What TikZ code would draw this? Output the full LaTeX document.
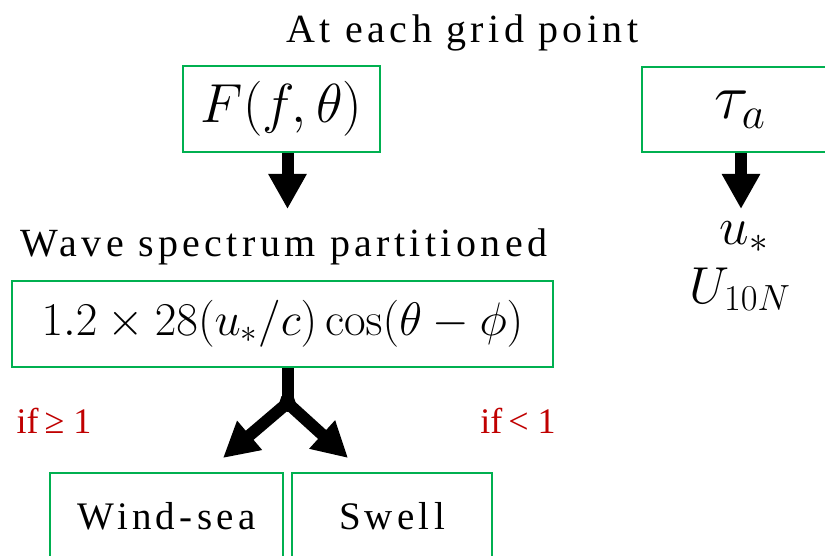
\RequirePackage{fix-cm}
\documentclass[tikz,border=0pt]{standalone}
\usepackage[no-math]{fontspec}
\setmainfont{Liberation Serif}
\newfontfamily\spaced[LetterSpace=11]{Liberation Serif}
\usetikzlibrary{arrows.meta}
\definecolor{boxgreen}{HTML}{00B050}
\definecolor{labred}{HTML}{C00000}
\tikzset{
  greenbox/.style={draw=boxgreen, line width=2pt, inner sep=0pt, anchor=center},
  lbl/.style={font=\fontsize{40}{46}\selectfont\spaced, text=black, inner sep=0pt, anchor=base},
  redlbl/.style={font=\fontsize{36}{42}\selectfont, text=labred, inner sep=0pt, anchor=base},
  mathlbl/.style={inner sep=0pt, anchor=base},
  bigarrow/.style={line width=12pt, -{Triangle[length=35pt,width=36pt]}},
  splitline/.style={line width=12pt, line join=miter}
}
\begin{document}
\begin{tikzpicture}[x=1pt,y=-1pt]
\clip (0,0) rectangle (825,556);
\fill[white] (0,0) rectangle (825,556);

% title
\node[lbl] (title) at (462.5,43) {At each grid point};

% F box
\node[greenbox, minimum width=197pt, minimum height=86pt] (F) at (281.5,109)
  {\fontsize{55}{60}\selectfont$F(f,\theta)$};

% tau box
\node[greenbox, minimum width=196pt, minimum height=85pt] (tau) at (740,109.5)
  {\fontsize{64}{72}\selectfont$\tau_a$};

% arrows down
\coordinate (tipF) at (287.5,209);
\coordinate (tipT) at (741,209);
\draw[bigarrow] (F.south -| tipF) -- (tipF);
\draw[bigarrow] (tau.south -| tipT) -- (tipT);

% wave spectrum label
\node[lbl] (wsp) at (284,257) {Wave spectrum partitioned};

% u* and U10N
\node[mathlbl] (ustar) at (744,245) {\fontsize{53}{58}\selectfont$u_*$};
\node[mathlbl] (U10) at (740,303) {\fontsize{52}{58}\selectfont$U_{10N}$};

% formula box
\node[greenbox, minimum width=541pt, minimum height=86pt] (form) at (282.5,324)
  {\fontsize{47}{54}\selectfont$1.2\times28(u_*/c)\cos(\theta-\phi)$};

% split arrow
\coordinate (j) at (287.5,403);
\coordinate (tipL) at (223,458);
\coordinate (tipR) at (348,458);
\draw[splitline] (form.south -| j) -- (j);
\draw[splitline, -{Triangle[length=35pt,width=36pt]}] (j) -- (tipL);
\draw[splitline, -{Triangle[length=35pt,width=36pt]}] (j) -- (tipR);
\fill (281.5,396) -- (293.5,396) -- (297,407) -- (287.5,412) -- (278,407) -- cycle;

% red labels
\node[redlbl] (ge) at (54,433) {if\,≥ 1};
\node[redlbl] (lt) at (518,433) {if\,< 1};

% bottom boxes
\node[greenbox, minimum width=233pt, minimum height=86pt] (wind) at (166.5,516)
  {\fontsize{39}{45}\selectfont\spaced Wind-sea};
\node[greenbox, minimum width=200pt, minimum height=86pt] (swell) at (392,516)
  {\fontsize{39}{45}\selectfont\spaced Swell};
\end{tikzpicture}
\end{document}
